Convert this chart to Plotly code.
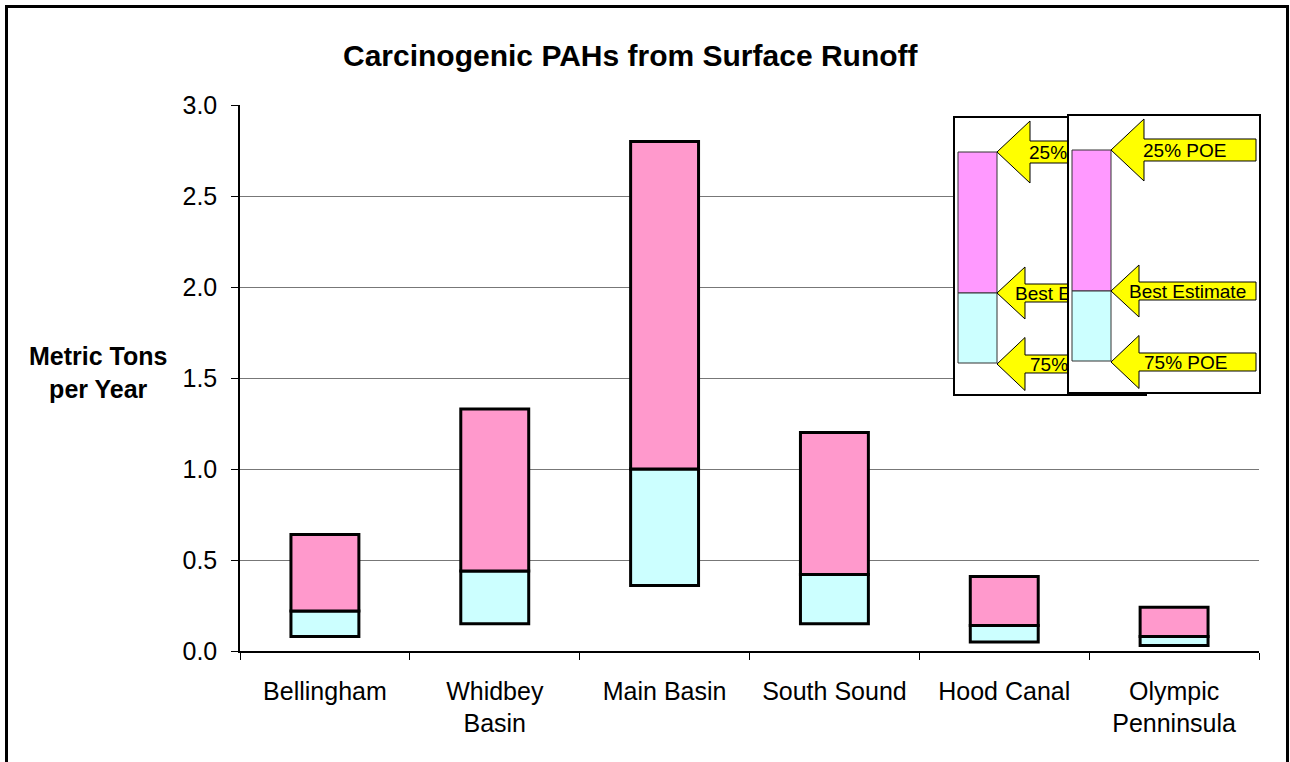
import plotly.graph_objects as go

# Annual carcinogenic PAH loads from surface runoff (metric tons per year)
basins = ["Bellingham", "Whidbey<br>Basin", "Main Basin", "South Sound",
          "Hood Canal", "Olympic<br>Penninsula"]
poe_75 = [0.08, 0.15, 0.36, 0.15, 0.05, 0.03]   # 75% probability of exceedance
best_estimate = [0.22, 0.44, 1.00, 0.42, 0.14, 0.08]
poe_25 = [0.64, 1.33, 2.80, 1.20, 0.41, 0.24]   # 25% probability of exceedance
y_ticks = [0.0, 0.5, 1.0, 1.5, 2.0, 2.5, 3.0]

FONT = "Arial, Liberation Sans, sans-serif"
W, H = 1290, 762
PL, PR, PT, PB = 240, 1259, 105, 651   # plot area in pixels


def fx(x):
    return (x - PL) / (PR - PL)


def fy(y):
    return (PB - y) / (PB - PT)


fig = go.Figure()
fig.add_trace(go.Bar(
    x=basins, y=[b - lo for b, lo in zip(best_estimate, poe_75)], base=poe_75,
    width=0.4, marker=dict(color="#CCFFFF", line=dict(color="black", width=3)),
    name="Best Estimate to 75% POE", showlegend=False))
fig.add_trace(go.Bar(
    x=basins, y=[hi - b for hi, b in zip(poe_25, best_estimate)], base=best_estimate,
    width=0.4, marker=dict(color="#FF99CC", line=dict(color="black", width=3)),
    name="25% POE to Best Estimate", showlegend=False))

shapes = []

# outer chart frame
shapes.append(dict(type="rect", xref="paper", yref="paper",
                   x0=fx(6.5), x1=fx(1287.5), y0=fy(6.5), y1=fy(820),
                   line=dict(color="black", width=3), fillcolor="rgba(0,0,0,0)",
                   layer="above"))


def legend_key(dx, dy):
    """Key panel: a sample bar with arrows naming its three levels."""
    out = []
    out.append(dict(type="rect", xref="paper", yref="paper",
                    x0=fx(1068 + dx), x1=fx(1260 + dx), y0=fy(115 + dy), y1=fy(393 + dy),
                    line=dict(color="black", width=2), fillcolor="white", layer="above"))
    out.append(dict(type="rect", xref="paper", yref="paper",
                    x0=fx(1072 + dx), x1=fx(1111 + dx), y0=fy(150 + dy), y1=fy(291 + dy),
                    line=dict(color="#333333", width=1), fillcolor="#FF99FF", layer="above"))
    out.append(dict(type="rect", xref="paper", yref="paper",
                    x0=fx(1072 + dx), x1=fx(1111 + dx), y0=fy(291 + dy), y1=fy(361 + dy),
                    line=dict(color="#333333", width=1), fillcolor="#CCFFFF", layer="above"))
    arrows = [
        ("25% POE", 150, 31, 11, 1144, 1140),
        ("Best Estimate", 291, 26, 9, 1139, 1126),
        ("75% POE", 362, 26.5, 9, 1139, 1141),
    ]
    tip_x, end_x = 1111 + dx, 1256 + dx
    for label, ty, hh, sh, bx, tx in arrows:
        ty += dy
        bx += dx
        tx += dx
        pts = [(tip_x, ty), (bx, ty - hh), (bx, ty - sh), (end_x, ty - sh),
               (end_x, ty + sh), (bx, ty + sh), (bx, ty + hh)]
        path = "M " + " L ".join(f"{fx(a):.5f},{fy(b):.5f}" for a, b in pts) + " Z"
        out.append(dict(type="path", xref="paper", yref="paper", path=path,
                        line=dict(color="black", width=1), fillcolor="#FFFF00",
                        layer="above"))
        out.append(dict(type="rect", xref="paper", yref="paper",
                        x0=fx(tx), x1=fx(end_x), y0=fy(ty - sh - 2), y1=fy(ty + sh - 2),
                        line=dict(width=0), fillcolor="rgba(0,0,0,0)", layer="above",
                        label=dict(text=label, textposition="middle left", padding=0,
                                   font=dict(family=FONT, size=19, color="black"))))
    return out


shapes += legend_key(-114, 2)
shapes += legend_key(0, 0)

annotations = [
    dict(text="<b>Carcinogenic PAHs from Surface Runoff</b>", xref="paper", yref="paper",
         x=fx(631), y=fy(55), xanchor="center", yanchor="middle", showarrow=False,
         font=dict(family=FONT, size=30, color="black")),
    dict(text="<b>Metric Tons<br>per Year</b>", xref="paper", yref="paper",
         x=fx(98), y=fy(372), xanchor="center", yanchor="middle", showarrow=False,
         align="center", font=dict(family=FONT, size=25, color="black")),
]

fig.update_layout(
    width=W, height=H, autosize=False,
    margin=dict(l=PL, r=W - PR, t=PT, b=H - PB, pad=0),
    paper_bgcolor="white", plot_bgcolor="white",
    barmode="overlay", showlegend=False,
    shapes=shapes, annotations=annotations,
    font=dict(family=FONT, color="black"),
)
fig.update_xaxes(
    showline=True, linecolor="black", linewidth=1.5,
    ticks="outside", tickson="boundaries", ticklen=7, tickcolor="black", tickwidth=1,
    tickfont=dict(family=FONT, size=25, color="black"), ticklabelstandoff=17,
    showgrid=False, zeroline=False, range=[-0.5, 5.5],
)
fig.update_yaxes(
    range=[0, 3.0], tickvals=y_ticks, ticktext=[f"{v:.1f}" for v in y_ticks],
    showline=True, linecolor="black", linewidth=1.5,
    ticks="outside", ticklen=7, tickcolor="black", tickwidth=1,
    tickfont=dict(family=FONT, size=25, color="black"), ticklabelstandoff=9,
    showgrid=True, gridcolor="#777777", gridwidth=1, zeroline=False,
)

fig.write_html("out.html")
